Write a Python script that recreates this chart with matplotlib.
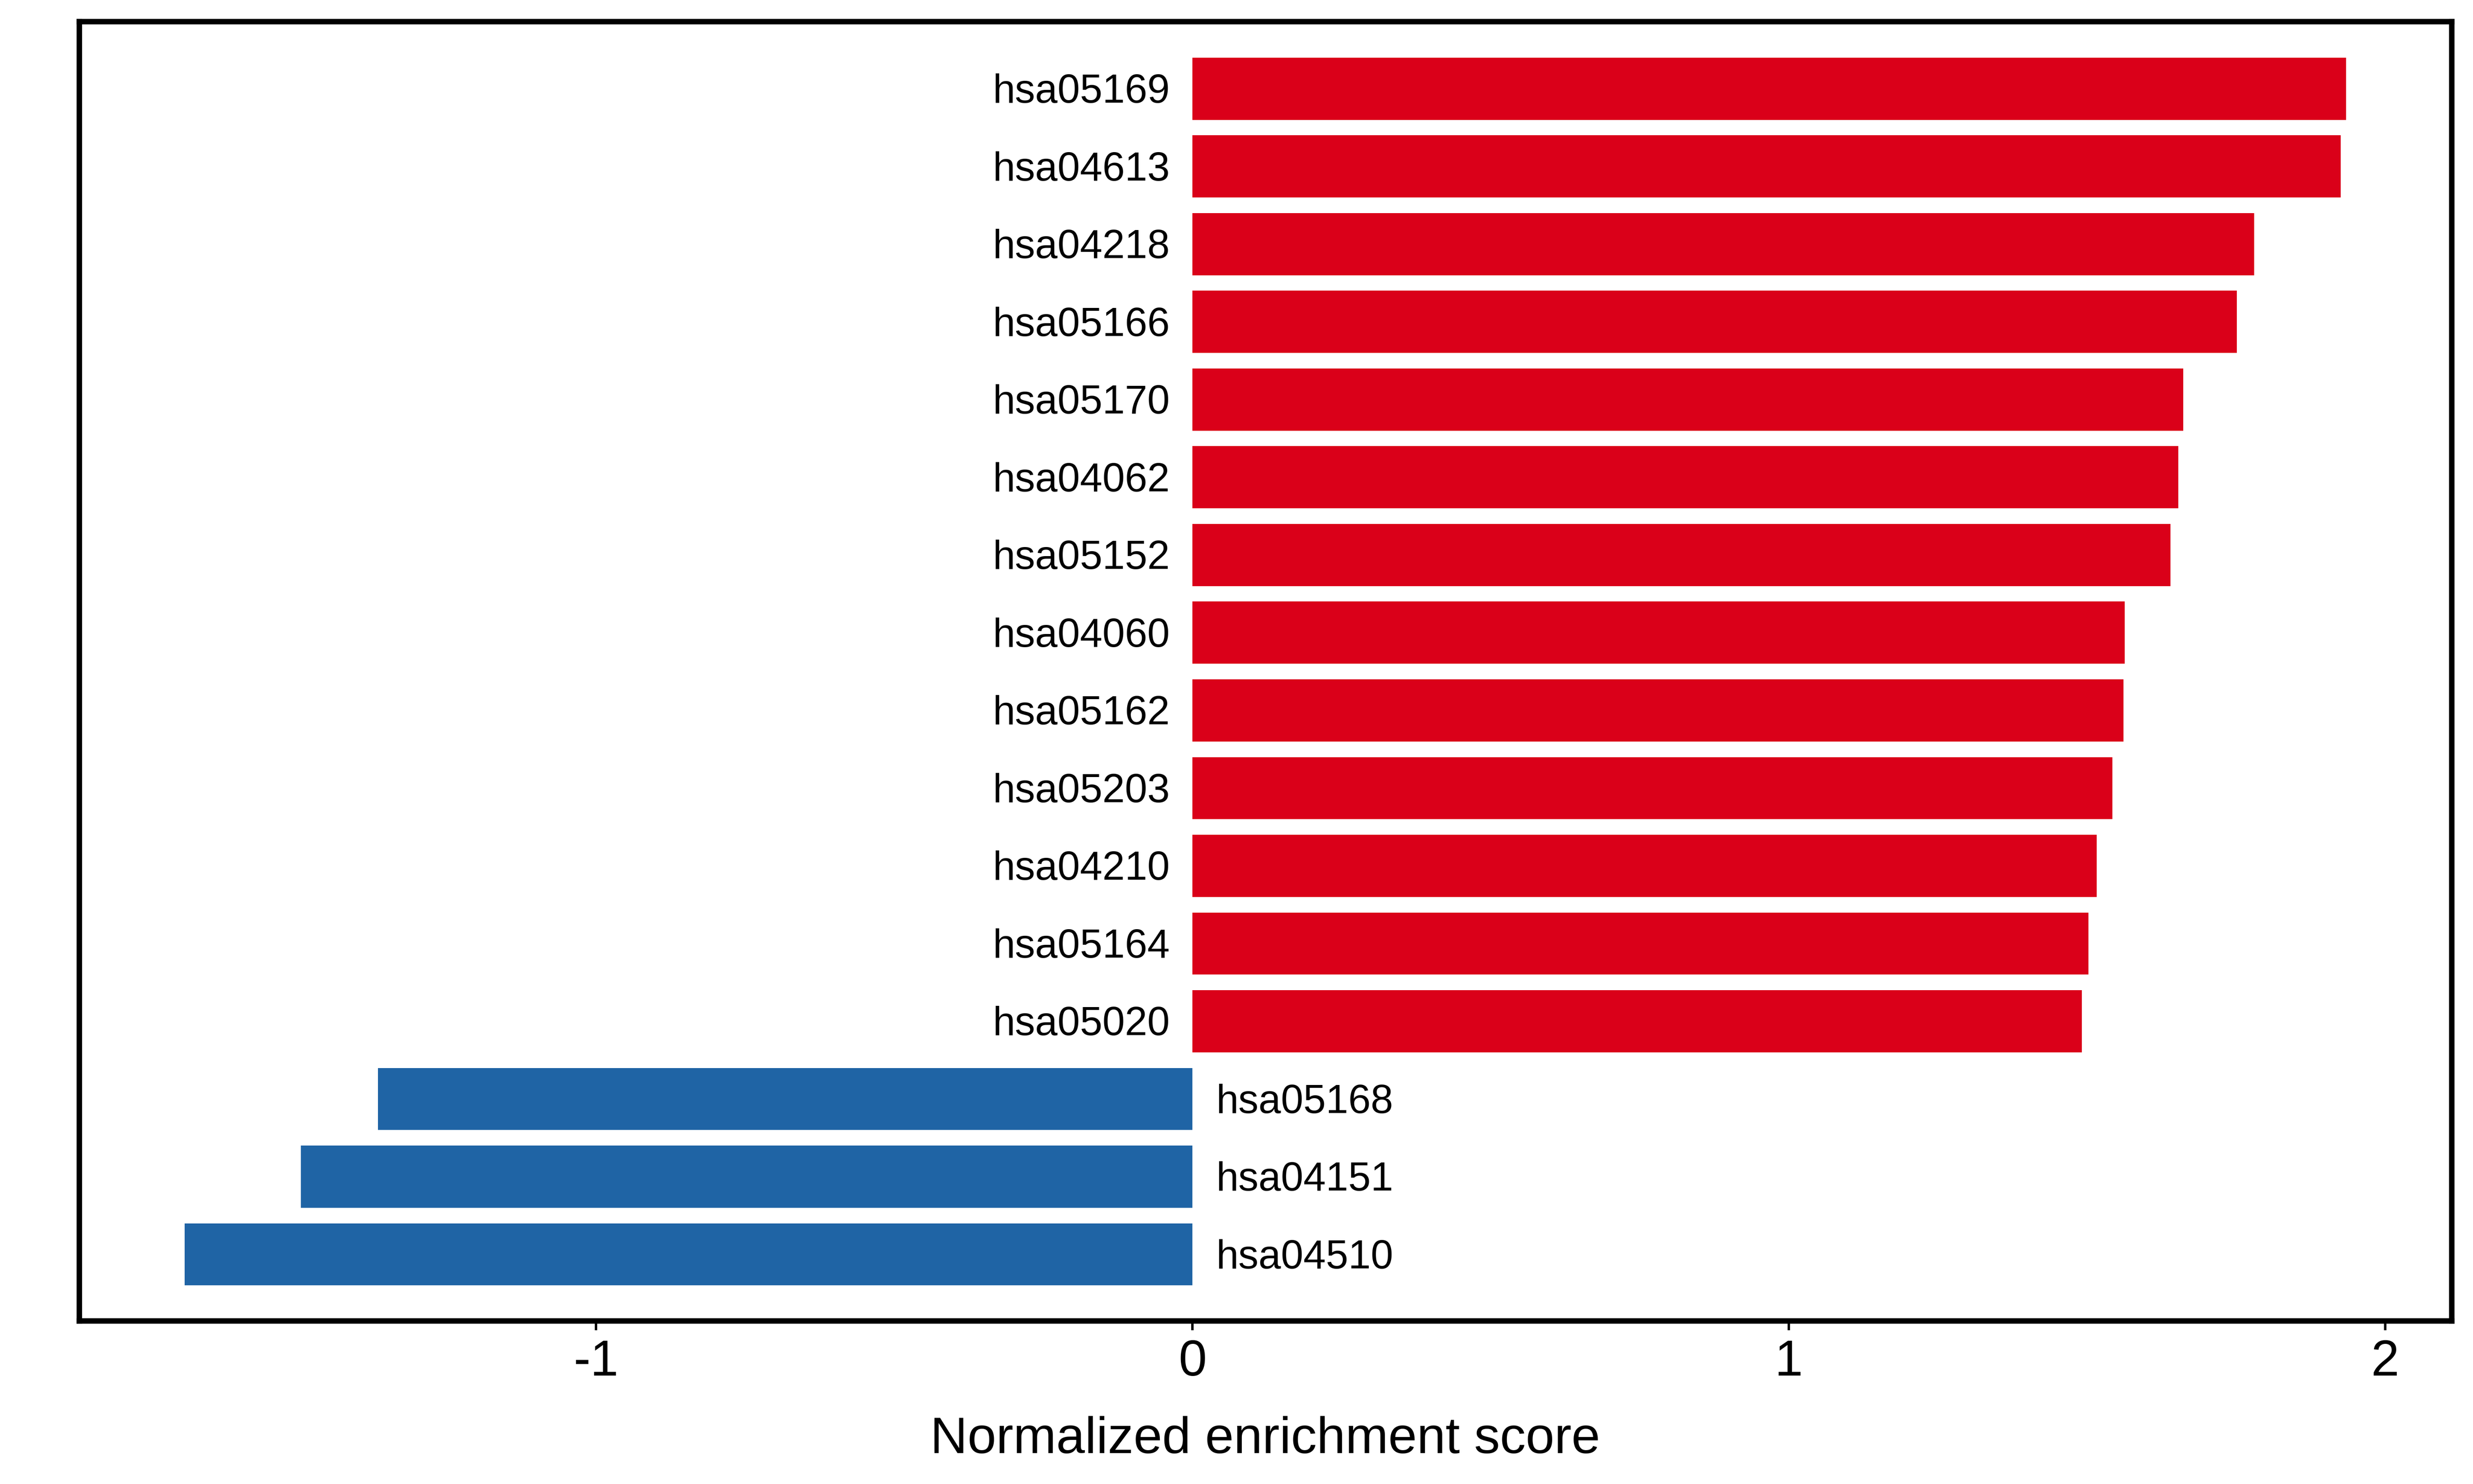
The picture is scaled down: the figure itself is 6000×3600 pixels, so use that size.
import matplotlib
matplotlib.use("Agg")
import matplotlib.pyplot as plt
import numpy as np

plt.rcParams["font.family"] = ["Liberation Sans", "DejaVu Sans"]
plt.rcParams["axes.unicode_minus"] = False

# pathways, top to bottom
pathways = ["hsa05169", "hsa04613", "hsa04218", "hsa05166", "hsa05170",
            "hsa04062", "hsa05152", "hsa04060", "hsa05162", "hsa05203",
            "hsa04210", "hsa05164", "hsa05020", "hsa05168", "hsa04151",
            "hsa04510"]
nes = [1.934, 1.925, 1.780, 1.751, 1.661, 1.653, 1.640, 1.563, 1.561,
       1.542, 1.516, 1.502, 1.491, -1.366, -1.495, -1.690]
x_ticks = [-1, 0, 1, 2]

RED = "#DA0019"
BLUE = "#1F64A5"

fig = plt.figure(figsize=(20, 12), dpi=300)
ax = fig.add_axes([0.032, 0.11, 0.9593, 0.8756])

ypos = np.arange(len(pathways))
colors = [RED if v > 0 else BLUE for v in nes]
ax.barh(ypos, nes, height=0.8, color=colors, zorder=2)

# labels sit just beside the zero line, nudged down a touch to center the digits
for y, v, name in zip(ypos, nes, pathways):
    if v > 0:
        ax.text(-0.038, y + 0.045, name, ha="right", va="center", fontsize=23.5)
    else:
        ax.text(0.039, y + 0.045, name, ha="left", va="center", fontsize=23.5)

ax.set_xlim(-1.867, 2.111)
ax.set_ylim(15.854, -0.867)
ax.set_xticks(x_ticks)
ax.set_xticklabels([str(t) for t in x_ticks])
ax.set_yticks([])
ax.tick_params(axis="x", length=5.5, width=1.4, pad=5, labelsize=29.5)
for s in ax.spines.values():
    s.set_linewidth(3.2)
ax.set_xlabel("Normalized enrichment score", fontsize=30, labelpad=17.5)

fig.savefig("out.png", dpi=300)
